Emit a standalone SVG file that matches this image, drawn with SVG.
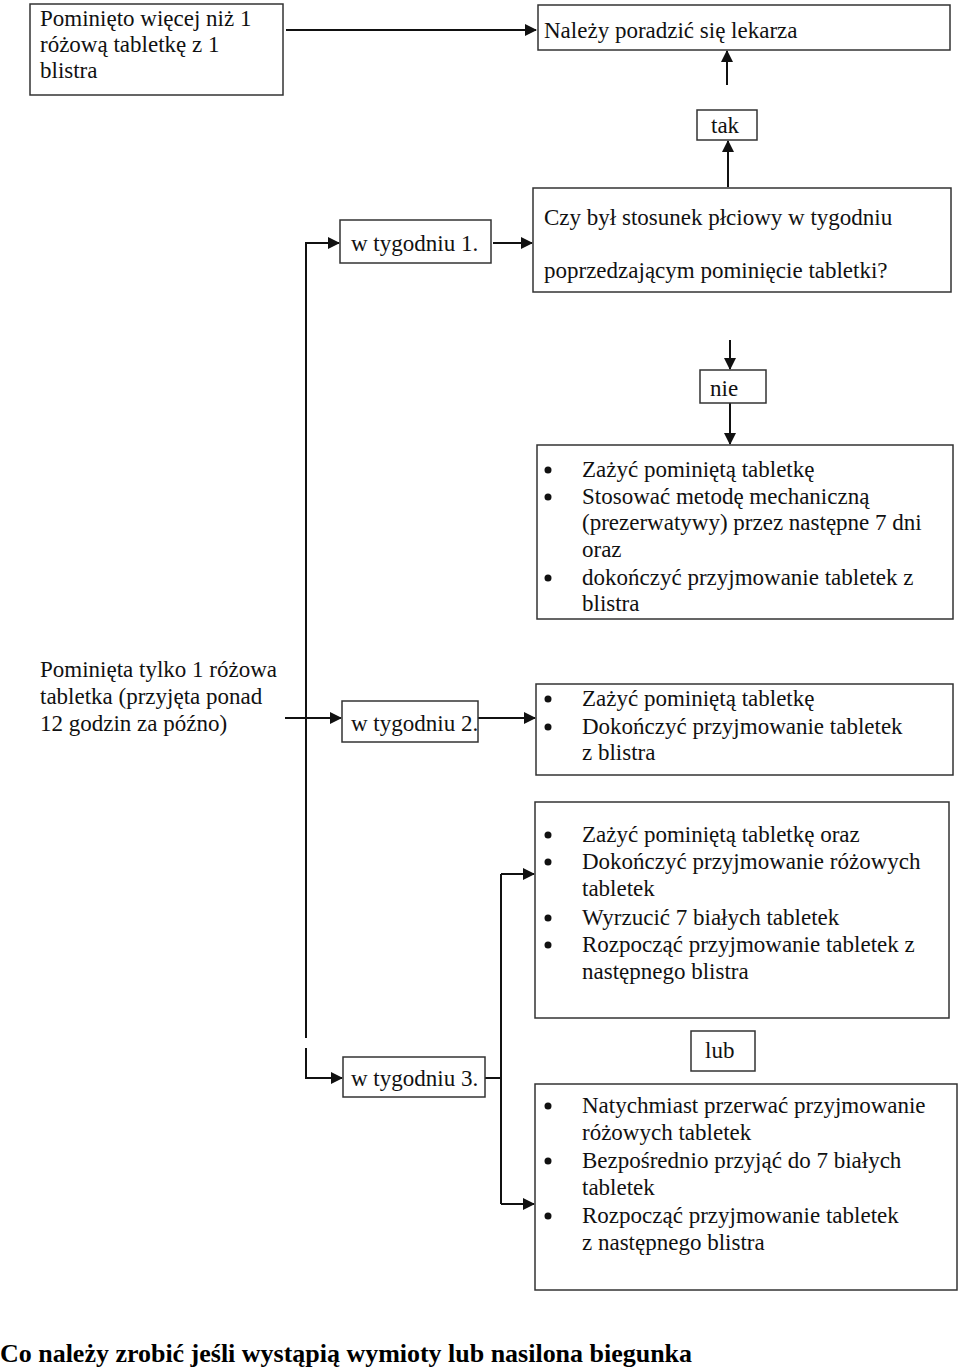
<svg xmlns="http://www.w3.org/2000/svg" width="960" height="1368" viewBox="0 0 960 1368">
<style>
.box{fill:#fff;stroke:#333;stroke-width:1.5}
.t{font-family:"Liberation Serif","Times New Roman",serif;font-size:23px;fill:#111}
.title{font-family:"Liberation Serif","Times New Roman",serif;font-size:25px;font-weight:bold;fill:#000}
.c{fill:none;stroke:#111;stroke-width:2}
.b{fill:#111}
</style>
<defs>
<marker id="ah" markerWidth="12" markerHeight="12" refX="11" refY="6" orient="auto" markerUnits="userSpaceOnUse">
<path d="M0,0 L12,6 L0,12 Z" fill="#111"/>
</marker>
</defs>
<rect width="960" height="1368" fill="#fff"/>
<g id="connectors">
<path class="c" d="M286,30 H536" marker-end="url(#ah)"/>
<path class="c" d="M727,85 V51" marker-end="url(#ah)"/>
<path class="c" d="M728,187 V141" marker-end="url(#ah)"/>
<path class="c" d="M306,1038 V243 H339" marker-end="url(#ah)"/>
<path class="c" d="M493,243 H532" marker-end="url(#ah)"/>
<path class="c" d="M730,340 V369" marker-end="url(#ah)"/>
<path class="c" d="M730,403 V444" marker-end="url(#ah)"/>
<path class="c" d="M285,718 H341" marker-end="url(#ah)"/>
<path class="c" d="M478,718 H535" marker-end="url(#ah)"/>
<path class="c" d="M306,1048 V1078 H342" marker-end="url(#ah)"/>
<path class="c" d="M485,1078 H501"/>
<path class="c" d="M501,874 V1204"/>
<path class="c" d="M501,874 H534" marker-end="url(#ah)"/>
<path class="c" d="M501,1204 H534" marker-end="url(#ah)"/>
</g>
<g id="n-more">
<rect class="box" x="30" y="4" width="253" height="91"/>
<text class="t" x="40" y="26">Pominięto więcej niż 1</text>
<text class="t" x="40" y="52">różową tabletkę z 1</text>
<text class="t" x="40" y="78">blistra</text>
</g>
<g id="n-doctor">
<rect class="box" x="538" y="5" width="412" height="45"/>
<text class="t" x="544" y="38">Należy poradzić się lekarza</text>
</g>
<g id="n-tak">
<rect class="box" x="697" y="110" width="60" height="30"/>
<text class="t" x="711" y="133">tak</text>
</g>
<g id="n-question">
<rect class="box" x="533" y="188" width="418" height="104"/>
<text class="t" x="544" y="225">Czy był stosunek płciowy w tygodniu</text>
<text class="t" x="544" y="278">poprzedzającym pominięcie tabletki?</text>
</g>
<g id="n-week1">
<rect class="box" x="340" y="220" width="151" height="43"/>
<text class="t" x="351" y="251">w tygodniu 1.</text>
</g>
<g id="n-nie">
<rect class="box" x="700" y="370" width="66" height="33"/>
<text class="t" x="710" y="396">nie</text>
</g>
<g id="n-list1">
<rect class="box" x="537" y="445" width="416" height="174"/>
<circle class="b" cx="548" cy="470" r="3.5"/>
<circle class="b" cx="548" cy="497" r="3.5"/>
<circle class="b" cx="548" cy="578" r="3.5"/>
<text class="t" x="582" y="477">Zażyć pominiętą tabletkę</text>
<text class="t" x="582" y="504">Stosować metodę mechaniczną</text>
<text class="t" x="582" y="530">(prezerwatywy) przez następne 7 dni</text>
<text class="t" x="582" y="557">oraz</text>
<text class="t" x="582" y="585">dokończyć przyjmowanie tabletek z</text>
<text class="t" x="582" y="611">blistra</text>
</g>
<g id="n-single">
<text class="t" x="40" y="677">Pominięta tylko 1 różowa</text>
<text class="t" x="40" y="704">tabletka (przyjęta ponad</text>
<text class="t" x="40" y="731">12 godzin za późno)</text>
</g>
<g id="n-week2">
<rect class="box" x="342" y="701" width="136" height="41"/>
<text class="t" x="351" y="731">w tygodniu 2.</text>
</g>
<g id="n-list2">
<rect class="box" x="536" y="684" width="417" height="91"/>
<circle class="b" cx="548" cy="699" r="3.5"/>
<circle class="b" cx="548" cy="727" r="3.5"/>
<text class="t" x="582" y="706">Zażyć pominiętą tabletkę</text>
<text class="t" x="582" y="734">Dokończyć przyjmowanie tabletek</text>
<text class="t" x="582" y="760">z blistra</text>
</g>
<g id="n-list3">
<rect class="box" x="535" y="802" width="414" height="216"/>
<circle class="b" cx="548" cy="835" r="3.5"/>
<circle class="b" cx="548" cy="862" r="3.5"/>
<circle class="b" cx="548" cy="918" r="3.5"/>
<circle class="b" cx="548" cy="945" r="3.5"/>
<text class="t" x="582" y="842">Zażyć pominiętą tabletkę oraz</text>
<text class="t" x="582" y="869">Dokończyć przyjmowanie różowych</text>
<text class="t" x="582" y="896">tabletek</text>
<text class="t" x="582" y="925">Wyrzucić 7 białych tabletek</text>
<text class="t" x="582" y="952">Rozpocząć przyjmowanie tabletek z</text>
<text class="t" x="582" y="979">następnego blistra</text>
</g>
<g id="n-lub">
<rect class="box" x="691" y="1031" width="64" height="40"/>
<text class="t" x="705" y="1058">lub</text>
</g>
<g id="n-week3">
<rect class="box" x="343" y="1057" width="142" height="40"/>
<text class="t" x="351" y="1086">w tygodniu 3.</text>
</g>
<g id="n-list4">
<rect class="box" x="535" y="1084" width="422" height="206"/>
<circle class="b" cx="548" cy="1106" r="3.5"/>
<circle class="b" cx="548" cy="1161" r="3.5"/>
<circle class="b" cx="548" cy="1216" r="3.5"/>
<text class="t" x="582" y="1113">Natychmiast przerwać przyjmowanie</text>
<text class="t" x="582" y="1140">różowych tabletek</text>
<text class="t" x="582" y="1168">Bezpośrednio przyjąć do 7 białych</text>
<text class="t" x="582" y="1195">tabletek</text>
<text class="t" x="582" y="1223">Rozpocząć przyjmowanie tabletek</text>
<text class="t" x="582" y="1250">z następnego blistra</text>
</g>
<text class="title" x="0" y="1362" textLength="692" lengthAdjust="spacingAndGlyphs">Co należy zrobić jeśli wystąpią wymioty lub nasilona biegunka</text>
</svg>
